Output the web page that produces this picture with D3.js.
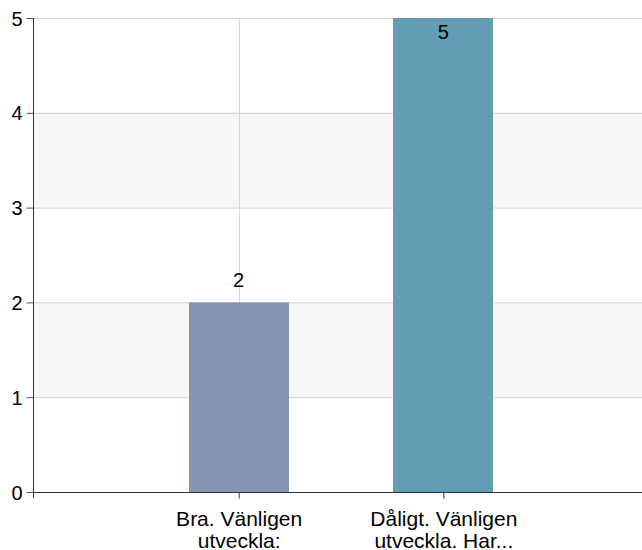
<!DOCTYPE html>
<html><head><meta charset="utf-8">
<script src="https://cdn.jsdelivr.net/npm/d3@7"></script>
<style>body{margin:0;background:#fff}svg{display:block}text{font-family:Arial,"Liberation Sans",sans-serif}</style>
</head><body>
<svg id="c" width="642" height="550"></svg>
<script>
const categories = [["Bra. Vänligen","utveckla:"],["Dåligt. Vänligen","utveckla. Har..."]];
const values = [2, 5];
const colors = ["#8594b4", "#639db4"];
const yTicks = [0,1,2,3,4,5];

const svg = d3.select("#c");
const mLeft = 33, mRight = 642, mTop = 18, mBottom = 492;
const keys = categories.map((c,i)=>String(i));
const x = d3.scalePoint().domain(keys).range([mLeft+1, 648]).padding(1);
const y = d3.scaleLinear().domain([0,5]).range([mBottom, mTop]);
const barW = 100;

// bands
for (let i = 0; i < yTicks.length-1; i++) {
  if (i % 2 === 1) {
    svg.append("rect").attr("x", mLeft).attr("y", y(yTicks[i+1])).attr("width", mRight-mLeft).attr("height", y(yTicks[i]) - y(yTicks[i+1])).attr("fill", "#f7f7f7");
  }
}
// horizontal grid
svg.append("g").selectAll("line").data(yTicks).join("line")
  .attr("x1", mLeft).attr("x2", mRight).attr("y1", d=>y(d)+0.5).attr("y2", d=>y(d)+0.5)
  .attr("stroke", "#d0d0d0");
// vertical grid
svg.append("g").selectAll("line").data(keys).join("line")
  .attr("x1", d=>Math.round(x(d))+0.5).attr("x2", d=>Math.round(x(d))+0.5).attr("y1", mTop).attr("y2", mBottom)
  .attr("stroke", "#d8d8d8");
// bars
svg.append("g").selectAll("rect").data(values).join("rect")
  .attr("x", (d,i)=>Math.round(x(keys[i]) - barW/2)).attr("width", barW)
  .attr("y", d=>y(d)).attr("height", d=>mBottom - y(d))
  .attr("fill", (d,i)=>colors[i]);
// value labels
svg.append("g").selectAll("text").data(values).join("text")
  .attr("x", (d,i)=>x(keys[i])).attr("y", d=> d === 5 ? y(d)+21 : y(d)-15)
  .attr("text-anchor","middle").style("font-size", "20px").attr("fill","#000").text(d=>d);

// y axis
const yAxis = d3.axisLeft(y).tickValues(yTicks).tickSize(7).tickPadding(4).tickFormat(d3.format("d"));
const gy = svg.append("g").attr("transform", `translate(${mLeft+0.5},0)`).call(yAxis);
gy.select(".domain").remove();
gy.append("line").attr("x1",0).attr("x2",0).attr("y1",mTop).attr("y2",mBottom+6).attr("stroke","#333");
gy.selectAll(".tick line").attr("stroke","#555");
gy.selectAll(".tick text").style("font-size", "20px").attr("fill","#000").attr("dy","0.35em");

// x axis
const xAxis = d3.axisBottom(x).tickSize(6).tickFormat("");
const gx = svg.append("g").attr("transform", `translate(0,${mBottom+0.5})`).call(xAxis);
gx.select(".domain").remove();
gx.append("line").attr("x1",mLeft).attr("x2",mRight).attr("y1",0).attr("y2",0).attr("stroke","#333");
gx.selectAll(".tick line").attr("stroke","#333");
gx.selectAll(".tick").each(function(d,i){
  const t = d3.select(this).append("text").attr("text-anchor","middle").style("font-size","21px").attr("fill","#000");
  categories[i].forEach((line,j)=>{
    t.append("tspan").attr("x",0).attr("y", 33 + j*22).text(line);
  });
});
</script>
</body></html>
